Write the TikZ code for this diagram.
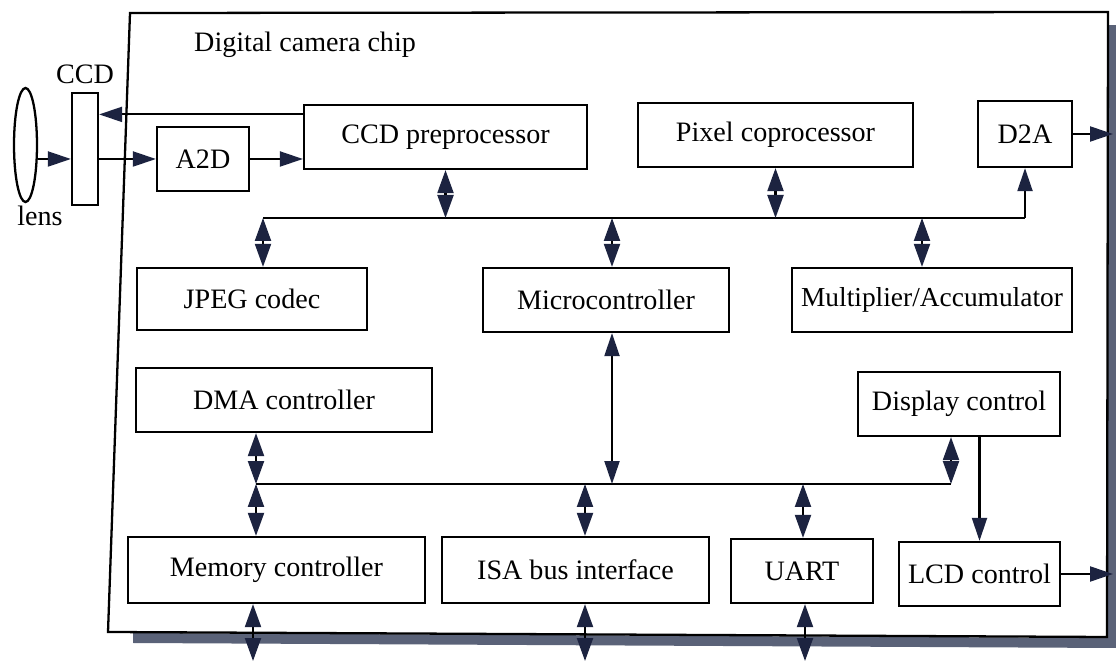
\documentclass[tikz,border=0pt]{standalone}
\usepackage{fontspec}
\setmainfont{Liberation Serif}
\usetikzlibrary{arrows.meta,shapes.geometric}

\definecolor{tipblue}{HTML}{1C2340}
\definecolor{shadowgray}{HTML}{5A6278}

\tikzset{
  blk/.style={draw, line width=1.3pt, minimum height=1.28cm, inner sep=0pt,
    font=\fontsize{16}{18}\selectfont},
  arr/.style={line width=1.2pt, -{Triangle[length=0.46cm, width=0.3cm, color=tipblue]}},
  bi/.style={line width=1.2pt, {Triangle[length=0.46cm, width=0.3cm, color=tipblue]}-{Triangle[length=0.46cm, width=0.3cm, color=tipblue]}},
  half/.style={line width=1.2pt, -{Triangle[length=0.46cm, width=0.32cm, color=tipblue]}},
  lbl/.style={font=\fontsize{16}{18}\selectfont}
}

% two heads meeting in the middle
\newcommand{\busarrow}[2]{%
  \path #1 -- #2 coordinate[pos=0.5] (mid);
  \draw[half] (mid) -- #1;
  \draw[half] (mid) -- #2;}

\begin{document}
\begin{tikzpicture}[x=0.02cm, y=-0.02cm]
\useasboundingbox (0,0) rectangle (1116,661);

% Chip outline and shadow
\fill[shadowgray] (133,633) -- (1116,638) -- (1116,648) -- (133,643) -- cycle;
\fill[shadowgray] (1108,25) -- (1116,25) -- (1116,648) -- (1108,648) -- cycle;
\fill[white] (130,13) -- (1108,12) -- (1107,637) -- (108,632) -- cycle;
\draw[line width=1.3pt] (130,13) -- (1108,12) -- (1107,637) -- (108,632) -- cycle;
\node[lbl, anchor=west] (title) at (188,45) {Digital camera chip};

% Lens and sensor
\node[draw, line width=1.3pt, ellipse, minimum width=0.46cm, minimum height=2.28cm, inner sep=0pt] (lens) at (25.5,145) {};
\node[lbl] (lenslbl) at (40,216) {lens};
\node[draw, line width=1.3pt, minimum width=0.52cm, minimum height=2.24cm, inner sep=0pt] (ccd) at (85,149) {};
\node[lbl] (ccdlbl) at (85,74) {CCD};

% Blocks
\node[blk, minimum width=1.84cm] (a2d) at (203,159) {A2D};
\node[blk, minimum width=5.66cm] (ccdpre) at (445.5,137) {CCD preprocessor};
\node[blk, minimum width=5.5cm] (pixel) at (775.5,135) {Pixel coprocessor};
\node[blk, minimum width=1.88cm, minimum height=1.32cm] (d2a) at (1025,134) {D2A};
\node[blk, minimum width=4.6cm, minimum height=1.24cm] (jpeg) at (252,299) {JPEG codec};
\node[blk, minimum width=4.92cm] (micro) at (606,300) {Microcontroller};
\node[blk, minimum width=5.6cm, font=\fontsize{15.6}{18}\selectfont] (mac) at (932,300) {Multiplier/Accumulator};
\node[blk, minimum width=5.92cm] (dma) at (284,400) {DMA controller};
\node[blk, minimum width=4.04cm] (disp) at (959,404) {Display control};
\node[blk, minimum width=5.94cm, minimum height=1.32cm] (mem) at (276.5,570) {Memory controller};
\node[blk, minimum width=5.34cm, minimum height=1.32cm] (isa) at (575.5,570) {ISA bus interface};
\node[blk, minimum width=2.84cm] (uart) at (802,571) {UART};
\node[blk, minimum width=3.22cm] (lcd) at (979.5,574) {LCD control};

% Input path
\draw[arr] (lens.east |- a2d) -- (ccd.west |- a2d);
\draw[arr] (ccd.east |- a2d) -- (a2d.west);
\draw[arr] (a2d.east) -- (a2d.east -| ccdpre.west);
\draw[arr] (ccdpre.171) -- (ccdpre.171 -| ccd.east);

% Upper bus
\coordinate (bus1L) at (263,218);
\coordinate (bus1R) at (1025,218);
\coordinate (b1m) at (612,218);
\coordinate (b1x) at (922,218);
\draw[line width=1.2pt] (bus1L) -- (bus1R);
\busarrow{(ccdpre.south)}{(ccdpre.south |- bus1L)}
\busarrow{(pixel.south)}{(pixel.south |- bus1L)}
\busarrow{(bus1L)}{(bus1L |- jpeg.north)}
\busarrow{(b1m)}{(b1m |- micro.north)}
\busarrow{(b1x)}{(b1x |- mac.north)}
\draw[arr] (bus1R) -- (d2a.south);

% Lower bus
\coordinate (bus2L) at (256,484);
\coordinate (bus2R) at (951,484);
\coordinate (b2m) at (612,484);
\coordinate (b2i) at (585,484);
\coordinate (b2u) at (803,484);
\draw[line width=1.2pt] (bus2L) -- (bus2R);
\busarrow{(bus2L |- dma.south)}{(bus2L)}
\busarrow{(bus2L)}{(bus2L |- mem.north)}
\draw[bi] (b2m |- micro.south) -- (b2m);
\busarrow{(b2i)}{(b2i |- isa.north)}
\busarrow{(b2u)}{(b2u |- uart.north)}
\busarrow{(bus2R |- disp.south)}{(bus2R)}
\draw[arr] (lcd.north |- disp.south) -- (lcd.north);

% Outputs
\coordinate (outD) at (1113,134);
\coordinate (outL) at (1113,574);
\draw[arr] (d2a.east) -- (outD);
\draw[arr] (lcd.east) -- (outL);

% External connections
\coordinate (extM) at (253,661);
\coordinate (extI) at (585,661);
\coordinate (extU) at (805,661);
\busarrow{(extM |- mem.south)}{(extM)}
\busarrow{(extI |- isa.south)}{(extI)}
\busarrow{(extU |- uart.south)}{(extU)}

\end{tikzpicture}
\end{document}
